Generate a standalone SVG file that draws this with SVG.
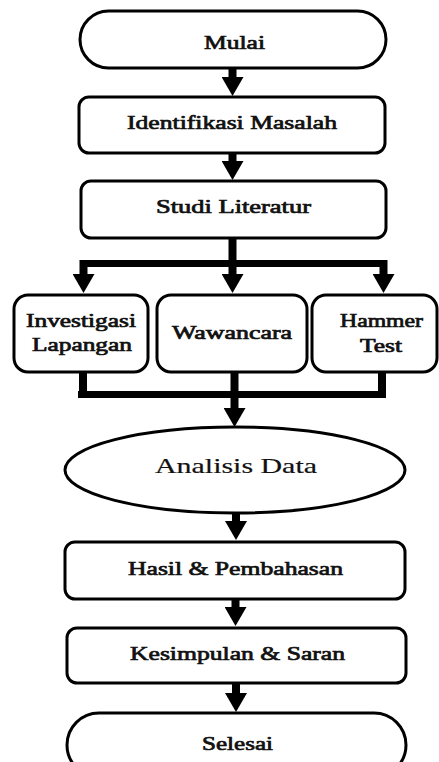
<svg xmlns="http://www.w3.org/2000/svg" width="439" height="762" viewBox="0 0 439 762">
<defs>
<marker id="ah" markerUnits="userSpaceOnUse" viewBox="0 0 19 22" markerWidth="19" markerHeight="22" refX="5" refY="11" orient="auto">
<path d="M0,0 L19,11 L0,22 z" fill="#000"/>
</marker>
<style>
.box{fill:#fff;stroke:#000;stroke-width:3}
.t{font-family:"Liberation Serif","Times New Roman",serif;font-weight:normal;font-size:19px;fill:#111;stroke:#111;stroke-width:0.7;text-anchor:middle}
.ts{font-size:18px}
.ta{stroke-width:0.2;font-size:22px}
.c{fill:none;stroke:#000;stroke-width:8}
.arr{marker-end:url(#ah)}
</style>
</defs>
<rect width="439" height="762" fill="#fff"/>
<g id="connectors">
<line class="c arr" x1="232.5" y1="68" x2="232.5" y2="82"/>
<line class="c arr" x1="232.5" y1="153" x2="232.5" y2="166"/>
<line class="c" x1="232.5" y1="238" x2="232.5" y2="264"/>
<line class="c" x1="80" y1="263.5" x2="387" y2="263.5" style="stroke-width:7"/>
<line class="c arr" x1="83.5" y1="260" x2="83.5" y2="279"/>
<line class="c arr" x1="232.5" y1="260" x2="232.5" y2="279"/>
<line class="c arr" x1="383.5" y1="260" x2="383.5" y2="279"/>
<line class="c" x1="83" y1="372" x2="83" y2="398"/>
<line class="c" x1="382" y1="372" x2="382" y2="398"/>
<line class="c" x1="78" y1="394.5" x2="386" y2="394.5" style="stroke-width:7"/>
<line class="c arr" x1="234.5" y1="372" x2="234.5" y2="413"/>
<line class="c arr" x1="236" y1="513" x2="236" y2="526"/>
<line class="c arr" x1="235.5" y1="599" x2="235.5" y2="612"/>
<line class="c arr" x1="236" y1="683" x2="236" y2="698"/>
</g>
<g id="mulai">
<rect class="box" x="80" y="11" width="306" height="57" rx="28.5"/>
<text class="t" x="234.5" y="49" textLength="61" lengthAdjust="spacingAndGlyphs">Mulai</text>
</g>
<g id="identifikasi">
<rect class="box" x="79" y="97" width="306" height="56" rx="10"/>
<text class="t" x="232" y="129" textLength="210" lengthAdjust="spacingAndGlyphs">Identifikasi Masalah</text>
</g>
<g id="studi">
<rect class="box" x="81" y="181" width="305" height="57" rx="10"/>
<text class="t" x="233.5" y="213" textLength="155" lengthAdjust="spacingAndGlyphs">Studi Literatur</text>
</g>
<g id="investigasi">
<rect class="box" x="14" y="295" width="134" height="77" rx="14"/>
<text class="t ts" x="81" y="327" textLength="110" lengthAdjust="spacingAndGlyphs">Investigasi</text>
<text class="t ts" x="82" y="351" textLength="100" lengthAdjust="spacingAndGlyphs">Lapangan</text>
</g>
<g id="wawancara">
<rect class="box" x="157" y="295" width="150" height="77" rx="14"/>
<text class="t ts" x="232" y="339" textLength="120" lengthAdjust="spacingAndGlyphs">Wawancara</text>
</g>
<g id="hammer">
<rect class="box" x="312" y="295" width="125" height="77" rx="14"/>
<text class="t ts" x="381.5" y="327" textLength="83" lengthAdjust="spacingAndGlyphs">Hammer</text>
<text class="t ts" x="381" y="352" textLength="42" lengthAdjust="spacingAndGlyphs">Test</text>
</g>
<g id="analisis">
<ellipse class="box" cx="235" cy="470" rx="170" ry="43"/>
<text class="t ta" x="236" y="473" textLength="162" lengthAdjust="spacingAndGlyphs">Analisis Data</text>
</g>
<g id="hasil">
<rect class="box" x="65" y="542" width="340" height="57" rx="10"/>
<text class="t" x="235.5" y="575" textLength="215" lengthAdjust="spacingAndGlyphs">Hasil &amp; Pembahasan</text>
</g>
<g id="kesimpulan">
<rect class="box" x="67" y="628" width="339" height="55" rx="10"/>
<text class="t" x="237.5" y="660" textLength="215" lengthAdjust="spacingAndGlyphs">Kesimpulan &amp; Saran</text>
</g>
<g id="selesai">
<rect class="box" x="67" y="713" width="339" height="64" rx="32"/>
<text class="t" x="237.5" y="750" textLength="71" lengthAdjust="spacingAndGlyphs">Selesai</text>
</g>
</svg>
